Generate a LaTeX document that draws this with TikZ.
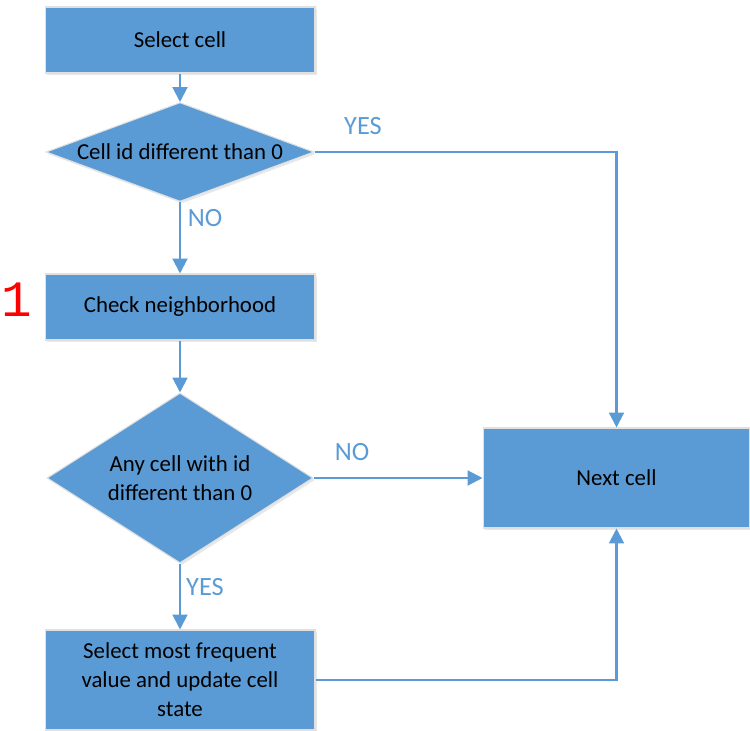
\documentclass[tikz,border=0pt]{standalone}
\usepackage{fontspec}
\setmainfont{Carlito}
\newfontfamily\digitfont{Liberation Mono}
\usepackage{tikz}
\usetikzlibrary{
    shapes.geometric,
    arrows.meta,
    positioning,
    calc,
    shadows}
\definecolor{flowblue}{HTML}{5B9BD5}
\newcommand*{\colx}{180}
\newcommand*{\sidex}{616.5}

\begin{document}
\begin{tikzpicture}[x=0.02cm, y=-0.02cm,
    block/.style={rectangle, fill=flowblue, draw=black!12, line width=0.6pt,
      minimum width=5.4cm, minimum height=1.32cm, align=center,
      font=\fontsize{13}{16.5}\selectfont,
      drop shadow={opacity=0.18, shadow xshift=0.04cm, shadow yshift=-0.04cm}},
    decision/.style={diamond, fill=flowblue, draw=black!12, line width=0.6pt,
      inner sep=0pt, align=center, font=\fontsize{13}{16.5}\selectfont,
      drop shadow={opacity=0.18, shadow xshift=0.04cm, shadow yshift=-0.04cm}},
    flow/.style={draw=flowblue, line width=1.2pt, -{Triangle[length=8.5pt,width=8.5pt]}},
    answer/.style={text=flowblue, font=\fontsize{15}{18}\selectfont}]
    \useasboundingbox (0,0) rectangle (750,730);
    \node[block] (sel) at (\colx,40) {Select cell};
    \node[decision, minimum width=5.36cm, minimum height=1.98cm, aspect=2.7] (d1) at (\colx,152) {Cell id different than 0};
    \node[block] (chk) at (\colx,307) {Check neighborhood};
    \node[decision, minimum width=5.32cm, minimum height=3.4cm, aspect=1.56] (d2) at (\colx,478) {Any cell with id\\different than 0};
    \node[block, minimum height=2cm] (upd) at (\colx,680) {Select most frequent\\value and update cell\\state};
    \node[block, minimum width=5.34cm, minimum height=2cm] (next) at (\sidex,478) {Next cell};
    \draw[flow] (sel) -- (d1);
    \draw[flow] (d1) -- (chk);
    \draw[flow] (chk) -- (d2);
    \draw[flow] (d2) -- (upd);
    \draw[flow] (d1.east) -| (next.north);
    \draw[flow] (d2.east) -- (next.west);
    \draw[flow] (upd.east) -| (next.south);
    \node[answer] (yes1) at (363,126) {YES};
    \node[answer] (no1) at (205,218) {NO};
    \node[answer] (no2) at (352,452) {NO};
    \node[answer] (yes2) at (205,587) {YES};
    \node[text=red, font=\digitfont\fontsize{29}{30}\selectfont] (num) at (17,300) {1};
  \end{tikzpicture}
\end{document}
